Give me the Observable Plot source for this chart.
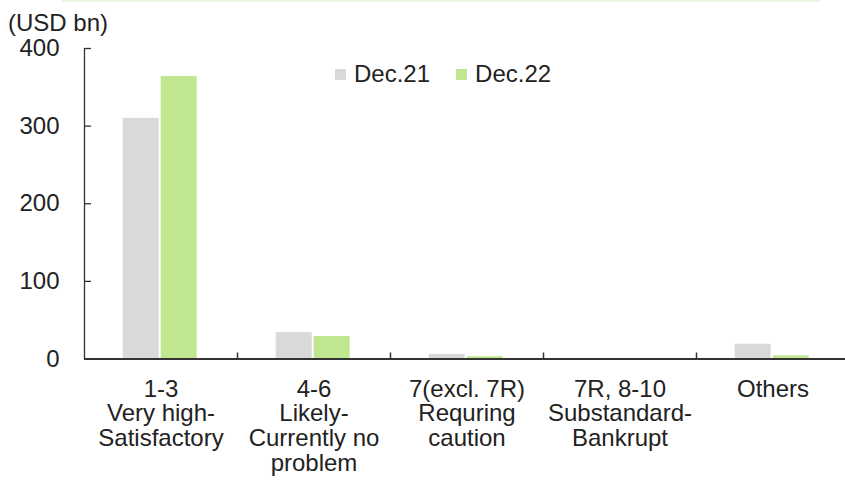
<!DOCTYPE html>
<html>
<head>
<meta charset="utf-8">
<script src="https://cdn.jsdelivr.net/npm/d3@7"></script>
<script src="https://cdn.jsdelivr.net/npm/@observablehq/plot@0.6"></script>
<style>
  html, body { margin: 0; padding: 0; background: #fff; overflow: hidden; }
  #wrap { position: relative; width: 845px; height: 486px; font-family: "Liberation Sans", Arial, sans-serif; color: #222; }
  #topline { position: absolute; left: 62px; top: 0; width: 758px; height: 2px; background: #e9f5df; }
  #header { position: relative; height: 40px; }
  #unit { position: absolute; left: 8px; top: 12px; font-size: 24px; line-height: 22px; white-space: nowrap; }
  #legend { position: absolute; left: 335px; top: 57.5px; }
  #legend > div { font-family: "Liberation Sans", Arial, sans-serif !important; font-size: 24px !important; color: #222 !important; margin: 0 !important; min-height: 33px; }
  #legend > div > span { margin-right: 26px !important; }
  #legend > div > span > svg { margin-right: 8px !important; }
</style>
</head>
<body>
<div id="wrap">
  <div id="topline"></div>
  <div id="header"><span id="unit">(USD bn)</span></div>
  <div id="chart"></div>
  <div id="legend"></div>
</div>
<script>
// Credit exposure by internal rating grade, USD bn
const categories = [
  "1-3\nVery high-\nSatisfactory",
  "4-6\nLikely-\nCurrently no\nproblem",
  "7(excl. 7R)\nRequring\ncaution",
  "7R, 8-10\nSubstandard-\nBankrupt",
  "Others"
];
const seriesNames = ["Dec.21", "Dec.22"];
const dec21 = [310, 34, 6, 0, 19];
const dec22 = [364, 29, 3, 0, 4];
const yTicks = [0, 100, 200, 300, 400];
const seriesColors = ["#d9d9d9", "#c0e68f"];

const axisColor = "#333";
const textColor = "#222";
const halfBand = (845 + 4 - 84) / categories.length / 2;

const chart = Plot.plot({
  width: 845,
  height: 446,
  marginTop: 8,
  marginBottom: 127.5,
  marginLeft: 84,
  marginRight: -4,
  style: { fontFamily: "Liberation Sans, Arial, sans-serif", fontSize: "24px", color: textColor, background: "transparent", overflow: "visible" },
  x: { domain: categories, padding: 0 },
  y: { domain: [0, 400] },
  marks: [
    // grouped bars: Dec.21 on the left half of each group, Dec.22 on the right
    Plot.barY(categories, { x: d => d, y: (d, i) => dec21[i], fill: seriesColors[0], insetLeft: 38.7, insetRight: 78.3 }),
    Plot.barY(categories, { x: d => d, y: (d, i) => dec22[i], fill: seriesColors[1], insetLeft: 76.7, insetRight: 40.3 }),
    // y axis: labels, inward ticks, line
    Plot.axisY({ ticks: yTicks, tickSize: 0, tickPadding: 25, fontSize: 24, fill: textColor, label: null }),
    Plot.axisY({ ticks: yTicks, tickSize: 7, dx: 7, tickFormat: () => "", stroke: axisColor, strokeWidth: 1.3, label: null }),
    Plot.ruleX([categories[0]], { x: d => d, dx: -halfBand, y1: 0, y2: 400, stroke: axisColor, strokeWidth: 1.3 }),
    // x axis: baseline, group separators, category labels
    Plot.ruleY([0], { stroke: axisColor, strokeWidth: 2 }),
    Plot.axisX({ ticks: categories.slice(0, -1), tickSize: 6, dx: halfBand, dy: -6, tickFormat: () => "", stroke: axisColor, strokeWidth: 1.5, label: null }),
    Plot.axisX({ tickSize: 0, tickPadding: 20, fontSize: 24, lineHeight: 1.03, fill: textColor, label: null })
  ]
});
document.getElementById("chart").appendChild(chart);

const legend = Plot.legend({
  color: { domain: seriesNames, range: seriesColors },
  legend: "swatches",
  swatchSize: 11,
  className: "lg"
});
document.getElementById("legend").appendChild(legend);
</script>
</body>
</html>
